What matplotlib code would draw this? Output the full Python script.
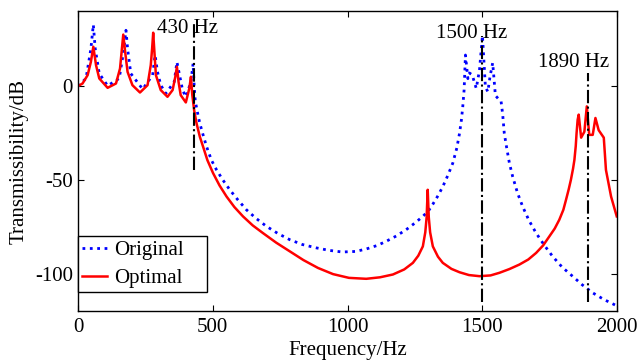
import numpy as np
import matplotlib.pyplot as plt

plt.rcParams['font.family'] = ['Liberation Serif', 'DejaVu Serif']
plt.rcParams['font.size'] = 15
plt.rcParams['axes.unicode_minus'] = False

# curva original
f_orig = [0, 30, 48, 57, 64, 79, 110, 153, 169, 178, 184, 196, 240, 277, 286, 295,
          307, 326, 357, 367, 378, 388, 400, 419, 427, 431, 435, 446, 452, 464, 477,
          495, 514, 537, 563, 592, 625, 660, 699, 740, 785, 832, 884, 930, 980, 1030,
          1069, 1110, 1143, 1180, 1217, 1250, 1279, 1300, 1316, 1335, 1353, 1372, 1390,
          1405, 1415, 1422, 1427, 1432, 1437, 1446, 1452, 1462, 1477, 1489, 1500, 1511,
          1520, 1528, 1538, 1548, 1563, 1569, 1575, 1581, 1590, 1600, 1612, 1630, 1649,
          1672, 1699, 1730, 1760, 1795, 1834, 1870, 1909, 1950, 1995]
db_orig = [0, 4.1, 20, 32.8, 20, 6.7, 0.2, 4.1, 18.3, 29.8, 20, 6.7, -1.6, 5.9, 16.5,
           7.6, 0.5, -3.9, 2.3, 12.9, 5, -2.1, -5.7, 2.3, 12, 0, -8, -16, -19.9, -26,
           -32.3, -39.5, -44.7, -50, -55.3, -60.5, -66, -70.5, -74.8, -78.5, -81.9,
           -84.5, -86.3, -87.6, -88.5, -88.2, -86.9, -85, -82.8, -80, -76.6, -73, -69.5,
           -66.5, -63, -58.5, -53.6, -47.5, -41.1, -33, -25.2, -18, -11, -2, 16.6, 4, 7,
           6, -1.2, 8.5, 27, -0.4, -3, 5, 12.4, -5, -7.4, -8, -15, -25.2, -33, -41.1,
           -48.2, -57, -64.2, -71.5, -78.4, -85, -90.8, -96.5, -101.4, -106, -110.3,
           -113.8, -117]

# curva otimizada
f_opt = [0, 17, 36, 48, 57, 67, 79, 110, 141, 156, 163, 168, 175, 184, 202, 230, 258,
         270, 275, 279, 289, 307, 332, 351, 361, 367, 373, 381, 400, 413, 419, 424,
         426, 431, 440, 452, 464, 480, 501, 525, 551, 580, 612, 648, 686, 735, 785,
         836, 890, 946, 1005, 1069, 1120, 1168, 1210, 1242, 1262, 1279, 1288, 1293,
         1297, 1301, 1306, 1316, 1335, 1353, 1385, 1415, 1450, 1489, 1530, 1563, 1600,
         1637, 1670, 1699, 1725, 1748, 1768, 1785, 1800, 1810, 1820, 1828, 1836, 1841,
         1846, 1849, 1853, 1857, 1866, 1878, 1887, 1896, 1909, 1919, 1931, 1950, 1958,
         1977, 1998]
db_opt = [0, 1.4, 5.9, 13, 21, 11.2, 4.1, -0.9, 1.4, 9.4, 20, 27.5, 18.3, 7.6, 0.5,
          -3.4, 0.5, 11.2, 20, 28.5, 5.9, -2.1, -5.7, -2.1, 5, 10.3, 2.3, -4.8, -8.7,
          -1.2, 5, -4.8, -7, -13, -20, -27, -32.3, -39.5, -46.4, -53, -58.9, -64.5,
          -69.5, -74.3, -78.4, -83.5, -88.1, -92.8, -97, -100.3, -102.3, -102.8, -102,
          -100.5, -97.8, -94.3, -90.5, -85.5, -78, -70, -55.3, -70, -78, -85.5, -91,
          -94.3, -97.5, -99.3, -100.8, -101.4, -101, -99.6, -97.6, -95.2, -92.5, -89,
          -85, -80.2, -76, -71.3, -66, -60.6, -55, -50, -44, -39.4, -32, -25.2, -18,
          -15.2, -27.5, -24.3, -10.8, -26, -26, -17, -23.5, -27.5, -44.7, -58.9, -69.5]

# linhas de referencia
f_ref = [430, 1500, 1890]
ref_top = [35, 27, 7]
ref_bot = [-45, -115, -115]
ref_txt = ['430 Hz', '1500 Hz', '1890 Hz']
txt_x = [293, 1328, 1707]
txt_y = [28.2, 25.5, 10]

fig = plt.figure(figsize=(6.39, 3.6), dpi=100)
ax = fig.add_axes([0.122, 0.136, 0.844, 0.833])

ax.plot(f_orig, db_orig, ':', color='blue', lw=2, label='Original')
ax.plot(f_opt, db_opt, '-', color='red', lw=1.8, label='Optimal')
for fr, t, b, s, tx, ty in zip(f_ref, ref_top, ref_bot, ref_txt, txt_x, txt_y):
    ax.plot([fr, fr], [b, t], '-.', color='black', lw=1.5)
    ax.text(tx, ty, s, ha='left', va='baseline')

ax.set_xlim(0, 2000)
ax.set_ylim(-120, 40)
ax.set_xticks([0, 500, 1000, 1500, 2000])
ax.set_yticks([-100, -50, 0])
ax.tick_params(direction='in', top=True, right=True, length=4, width=0.8)
ax.tick_params(axis='x', pad=5)
for sp in ax.spines.values():
    sp.set_linewidth(1.0)
ax.set_xlabel('Frequency/Hz', labelpad=3)
ax.set_ylabel('Transmissibility/dB', labelpad=5)

leg = ax.legend(loc='lower left', bbox_to_anchor=(0, 0.063, 0.2386, 0.18),
                mode='expand', borderaxespad=0,
                fancybox=False, edgecolor='black', framealpha=1,
                handlelength=1.2, handletextpad=0.35, labelspacing=0.4,
                borderpad=0.2)
leg.get_frame().set_linewidth(1.0)

plt.savefig('out.png', dpi=100)
